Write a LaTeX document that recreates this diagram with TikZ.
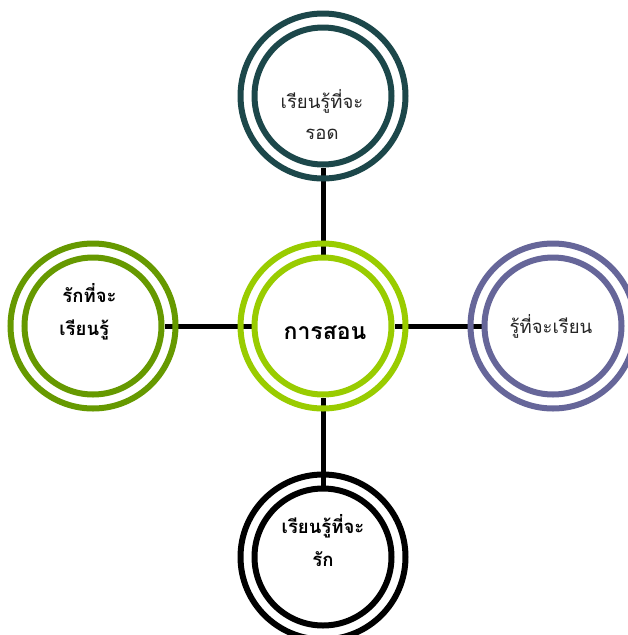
\documentclass[tikz,border=0pt]{standalone}
\usepackage{fontspec}
\newfontfamily\thaifont[Script=Thai]{Loma}
\usetikzlibrary{backgrounds}
\definecolor{cteal}{HTML}{1C474A}
\definecolor{clime}{HTML}{99CC00}
\definecolor{colive}{HTML}{669900}
\definecolor{cslate}{HTML}{666699}
\definecolor{cblack}{HTML}{000000}
\begin{document}
\begin{tikzpicture}[x=1pt,y=-1pt,
  ringin/.style={circle,minimum size=137pt,inner sep=0pt,line width=6pt,fill=white},
  ringout/.style={line width=6pt},
  conn/.style={line width=5pt,black},
  lbl/.style={font=\thaifont\fontsize{18.5}{31}\selectfont,align=center,text=black!85},
  lblb/.style={font=\thaifont\bfseries\fontsize{18.5}{33}\selectfont,align=center,text=black}]
\useasboundingbox (0,0) rectangle (627,635);
\node[ringin,draw=clime] (mid) at (323,326) {};
\node[ringin,draw=cteal] (top) at (323,96) {};
\node[ringin,draw=colive] (lft) at (93,326) {};
\node[ringin,draw=cslate] (rgt) at (553,326) {};
\node[ringin,draw=cblack] (bot) at (323,557) {};
\draw[ringout,clime] (mid.center) circle (82.5);
\draw[ringout,cteal] (top.center) circle (82.5);
\draw[ringout,colive] (lft.center) circle (82.5);
\draw[ringout,cslate] (rgt.center) circle (82.5);
\draw[ringout,cblack] (bot.center) circle (82.5);
\begin{pgfonlayer}{background}
\draw[conn] (top) -- (mid);
\draw[conn] (lft) -- (mid);
\draw[conn] (rgt) -- (mid);
\draw[conn] (bot) -- (mid);
\end{pgfonlayer}
\node[lblb,font=\thaifont\bfseries\fontsize{23}{30}\selectfont] (tmid) at (325,333) {การสอน};
\node[lbl] (ttop) at (322,115) {เรียนรู้ที่จะ\\รอด};
\node[lblb,align=left] (tlft) at (88,312) {\,รักที่จะ\\เรียนรู้};
\node[lbl] (trgt) at (551,326) {รู้ที่จะเรียน};
\node[lblb] (tbot) at (323,541) {เรียนรู้ที่จะ\\รัก};
\end{tikzpicture}
\end{document}
